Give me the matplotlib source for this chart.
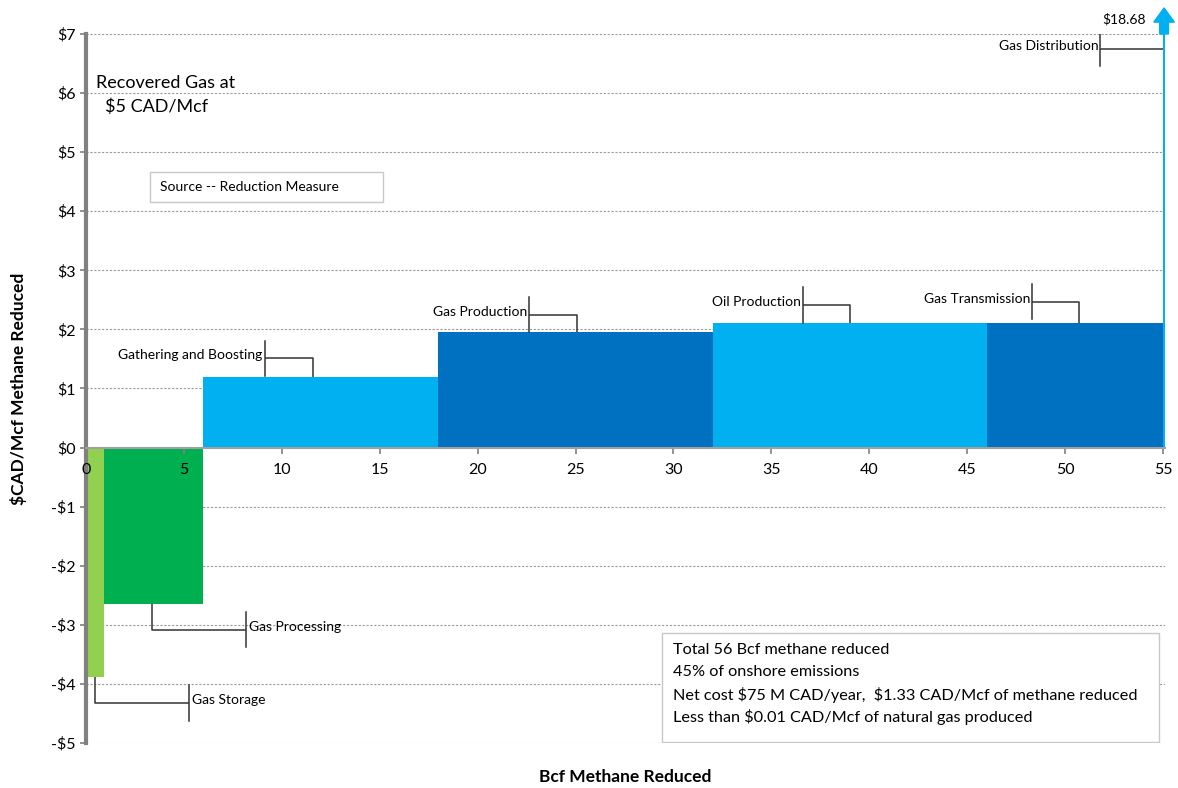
import numpy as np
import matplotlib.pyplot as plt
from matplotlib.patches import Rectangle, FancyArrow

plt.rcParams['font.family'] = ['Lato', 'DejaVu Sans']
plt.rcParams['text.parse_math'] = False

# Marginal abatement cost by source, bar width = methane reduced
sources = ['Gas Storage', 'Gas Processing', 'Gathering and Boosting',
           'Gas Production', 'Oil Production', 'Gas Transmission',
           'Gas Distribution']
reduced_bcf = [0.9, 5.1, 12.0, 14.0, 14.0, 9.0, 0.1]
cost_per_mcf = [-3.89, -2.65, 1.20, 1.95, 2.10, 2.11, 18.68]
bar_colors = ['#92D050', '#00B050', '#00B0F0', '#0070C0',
              '#00B0F0', '#0070C0', '#00B0F0']

# callout layout: point on bar, elbow height, bracket x, label side
callout_x = [0.46, 3.36, 11.57, 25.08, 38.99, 50.7, 55.0]
callout_elbow = [-4.32, -3.08, 1.51, 2.25, 2.41, 2.47, 6.75]
callout_bracket = [5.25, 8.15, 9.12, 22.63, 36.6, 48.3, 51.8]
callout_side = ['right', 'right', 'left', 'left', 'left', 'left', 'left']

summary_lines = ['Total 56 Bcf methane reduced',
                 '45% of onshore emissions',
                 'Net cost $75 M CAD/year,  $1.33 CAD/Mcf of methane reduced',
                 'Less than $0.01 CAD/Mcf of natural gas produced']

y_ticks = list(range(-5, 8))
x_ticks = list(range(0, 56, 5))

fig = plt.figure(figsize=(11.78, 7.88), dpi=100)
ax = fig.add_axes([0.073, 0.0571, 0.916, 0.8998])

lefts = np.concatenate([[0], np.cumsum(reduced_bcf)[:-1]])
ax.bar(lefts, cost_per_mcf, width=reduced_bcf, align='edge',
       color=bar_colors, linewidth=0, zorder=2)

ax.set_xlim(0, 55.1)
ax.set_ylim(-5, 7)
ax.set_axisbelow(False)

# dashed gridlines kept under the bars, tick labels stay on top
for v in y_ticks:
    if v != 0:
        ax.axhline(v, linestyle=(0, (2, 1.5)), color='#9a9a9a',
                   linewidth=0.8, zorder=1)

ax.set_yticks(y_ticks)
ax.set_yticklabels([f'-${-v}' if v < 0 else f'${v}' for v in y_ticks])
ax.set_xticks(x_ticks)
ax.set_xticklabels([str(v) for v in x_ticks])
ax.tick_params(axis='both', labelsize=11.5, colors='#808080',
               labelcolor='black', length=4, width=1.2)
ax.tick_params(axis='x', pad=7)

for side in ('top', 'right'):
    ax.spines[side].set_visible(False)
ax.spines['left'].set_color('#808080')
ax.spines['left'].set_linewidth(3)
ax.spines['bottom'].set_position(('data', 0))
ax.spines['bottom'].set_color('#a0a0a0')
ax.spines['bottom'].set_linewidth(1.5)
ax.spines['bottom'].set_zorder(3)

ax.set_ylabel('$CAD/Mcf Methane Reduced', fontsize=12.5, fontweight='bold',
              labelpad=17)
ax.set_xlabel('Bcf Methane Reduced', fontsize=12.5, fontweight='bold')
ax.xaxis.set_label_coords(0.5, -0.037)

# bracket callouts naming each source
for name, val, cx, ey, bx, side in zip(sources, cost_per_mcf, callout_x,
                                       callout_elbow, callout_bracket,
                                       callout_side):
    ay = val if val < 7 else ey
    ax.plot([cx, cx, bx], [ay, ey, ey], color='#333333', lw=1.1, zorder=4,
            solid_capstyle='butt')
    ax.plot([bx, bx], [ey - 0.3, ey + 0.3], color='#333333', lw=1.1,
            zorder=4)
    if side == 'right':
        ax.text(bx + 0.15, ey + 0.05, name, ha='left', va='center',
                fontsize=10, zorder=5)
    else:
        ax.text(bx - 0.1, ey + 0.05, name, ha='right', va='center',
                fontsize=10, zorder=5)

# off-scale distribution cost
top_x = lefts[-1] + reduced_bcf[-1] / 2
ax.add_patch(FancyArrow(top_x, 7.0, 0, 0.2, width=0.45, head_width=1.05,
                        head_length=0.24, length_includes_head=False,
                        color='#00B0F0', clip_on=False, zorder=5))
ax.text(54.1, 7.25, f'${cost_per_mcf[-1]:.2f}', ha='right', va='center',
        fontsize=10, clip_on=False)

ax.text(0.5, 6.17, 'Recovered Gas at', ha='left', va='center', fontsize=13)
ax.text(0.95, 5.76, '$5 CAD/Mcf', ha='left', va='center', fontsize=13)

ax.add_patch(Rectangle((3.26, 4.15), 11.93, 0.51, facecolor='white',
                       edgecolor='#c8c8c8', lw=1.0, zorder=3))
ax.text(3.77, 4.41, 'Source -- Reduction Measure', ha='left', va='center',
        fontsize=10, zorder=4)

ax.add_patch(Rectangle((29.4, -4.98), 25.4, 1.84, facecolor='white',
                       edgecolor='#c8c8c8', lw=1.0, zorder=3))
for i, line in enumerate(summary_lines):
    ax.text(29.97, -3.42 - 0.38 * i, line, ha='left', va='center',
            fontsize=11.7, zorder=4)

fig.savefig('out.png', dpi=100)
